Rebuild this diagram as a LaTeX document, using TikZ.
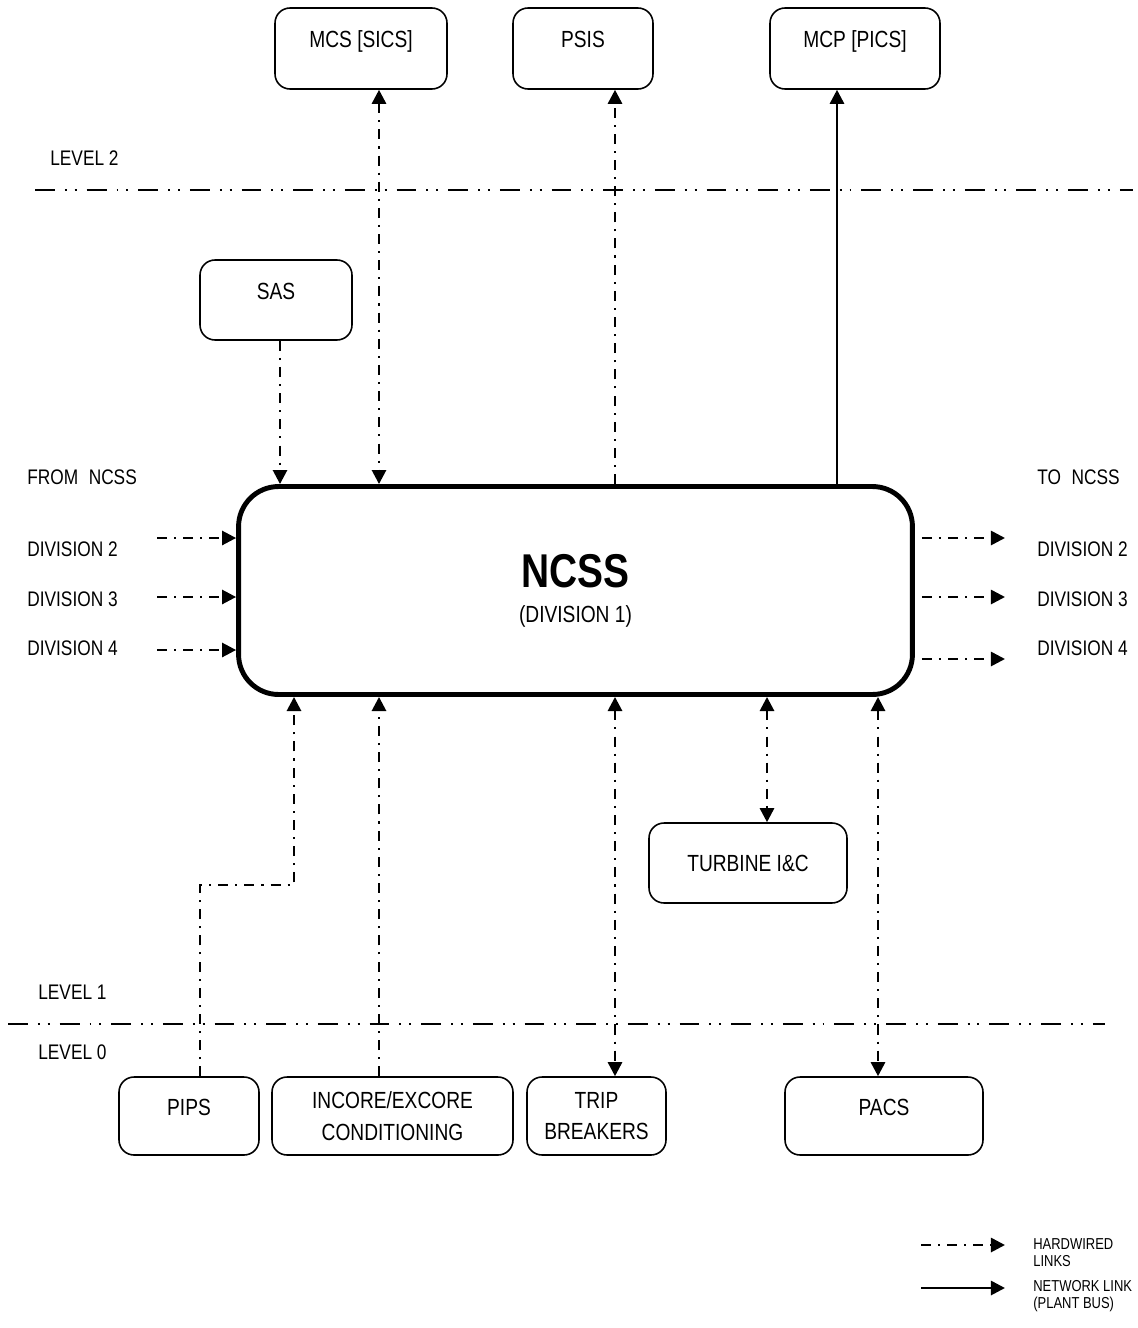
\documentclass[tikz,border=0pt]{standalone}
\usepackage{fontspec}
\setmainfont{Liberation Sans}[FakeStretch=0.82]
\usetikzlibrary{arrows.meta}
\tikzset{
  sysbox/.style={draw, rounded corners=0.3cm, line width=0.9pt, align=center, inner sep=0pt,
    font=\fontsize{13.3}{18}\selectfont},
  upbox/.style={sysbox, text height=10pt, text depth=11pt},
  hw/.style={line width=1.5pt, dash pattern=on 5.7pt off 4pt on 1.2pt off 4pt},
  net/.style={line width=1.5pt},
  lvl/.style={line width=1.3pt, dash pattern=on 11.3pt off 5.7pt on 1.1pt off 4.5pt on 1.1pt off 5.7pt},
  lbl/.style={font=\fontsize{12}{14}\selectfont, inner sep=0pt, anchor=west},
}
\begin{document}
\begin{tikzpicture}[x=0.02cm, y=-0.02cm, >={Triangle[length=8pt,width=8pt]}]
  \useasboundingbox (0,0) rectangle (1137,1328);

  % level 2 systems
  \node[upbox, minimum width=3.44cm, minimum height=1.62cm] (mcs) at (361,48.5) {MCS [SICS]};
  \node[upbox, minimum width=2.8cm, minimum height=1.62cm] (psis) at (583,48.5) {PSIS};
  \node[upbox, minimum width=3.4cm, minimum height=1.62cm] (mcp) at (855,48.5) {MCP [PICS]};
  \node[upbox, minimum width=3.04cm, minimum height=1.6cm] (sas) at (276,300) {SAS};

  \node[draw, line width=2.8pt, rounded corners=0.8cm, minimum width=13.48cm, minimum height=4.16cm,
    align=center, font=\fontsize{13.3}{20}\selectfont] (ncss) at (575.5,590.5)
    {{\fontsize{27}{20}\selectfont\bfseries NCSS}\\(DIVISION 1)};

  \node[sysbox, minimum width=3.96cm, minimum height=1.6cm] (turb) at (748,863) {TURBINE I\&C};

  % level 0 systems
  \node[upbox, minimum width=2.8cm, minimum height=1.56cm] (pips) at (189,1116) {PIPS};
  \node[sysbox, minimum width=4.82cm, minimum height=1.56cm] (incore) at (392.5,1116) {INCORE/EXCORE\\CONDITIONING};
  \node[sysbox, minimum width=2.78cm, minimum height=1.56cm] (trip) at (596.5,1116) {TRIP\\BREAKERS};
  \node[upbox, minimum width=3.96cm, minimum height=1.56cm] (pacs) at (884,1116) {PACS};

  % levels
  \draw[lvl] (35,190) -- (1133,190);
  \draw[lvl] (8,1024) -- (1105,1024);
  \node[lbl] (lev2) at (50,158) {LEVEL 2};
  \node[lbl] (lev1) at (38,992) {LEVEL 1};
  \node[lbl] (lev0) at (38,1052) {LEVEL 0};

  % columns
  \coordinate (xsas) at (280,0);
  \coordinate (xmcs) at (379,0);
  \coordinate (xpsis) at (615,0);
  \coordinate (xmcp) at (837,0);
  \coordinate (xturb) at (767,0);
  \coordinate (xpacs) at (878,0);
  \coordinate (bend) at (294,885);
  \coordinate (xpips) at (200,0);
  \coordinate (xout) at (1005,0);

  \draw[hw,->] (sas.south -| xsas) -- (ncss.north -| xsas);
  \draw[hw,<->] (mcs.south -| xmcs) -- (ncss.north -| xmcs);
  \draw[hw,->] (ncss.north -| xpsis) -- (psis.south -| xpsis);
  \draw[net,->] (ncss.north -| xmcp) -- (mcp.south -| xmcp);

  \draw[hw,->] (pips.north -| xpips) |- (bend) -- (ncss.south -| bend);
  \draw[hw,->] (incore.north -| xmcs) -- (ncss.south -| xmcs);
  \draw[hw,<->] (ncss.south -| xpsis) -- (trip.north -| xpsis);
  \draw[hw,<->] (ncss.south -| xturb) -- (turb.north -| xturb);
  \draw[hw,<->] (ncss.south -| xpacs) -- (pacs.north -| xpacs);

  % other divisions
  \node[lbl] (from) at (27,477) {FROM\enspace NCSS};
  \node[lbl] (to) at (1037,477) {TO\enspace NCSS};
  \foreach \n/\ya/\yt in {2/538/549, 3/597/599, 4/650/648}
  {
    \node[lbl] (from\n) at (27,\yt) {DIVISION \n};
    \coordinate (in\n) at (157,\ya);
    \draw[hw,->] (in\n) -- (in\n -| ncss.west);
  }
  \foreach \n/\ya/\yt in {2/538/549, 3/597/599, 4/659/648}
  {
    \node[lbl] (to\n) at (1037,\yt) {DIVISION \n};
    \coordinate (out\n) at (xout |- 0,\ya);
    \draw[hw,->,shorten <=4pt] (out\n -| ncss.east) -- (out\n);
  }

  % legend
  \coordinate (leghw) at (921,1245);
  \coordinate (legnet) at (921,1288);
  \draw[hw,->] (leghw) -- (leghw -| xout);
  \draw[net,->] (legnet) -- (legnet -| xout);
  \node[lbl, font=\fontsize{9}{9.6}\selectfont, align=left] (hwtxt) at (1033,1253) {HARDWIRED\\LINKS};
  \node[lbl, font=\fontsize{9}{9.6}\selectfont, align=left] (nettxt) at (1033,1296) {NETWORK LINK\\(PLANT BUS)};
\end{tikzpicture}
\end{document}
